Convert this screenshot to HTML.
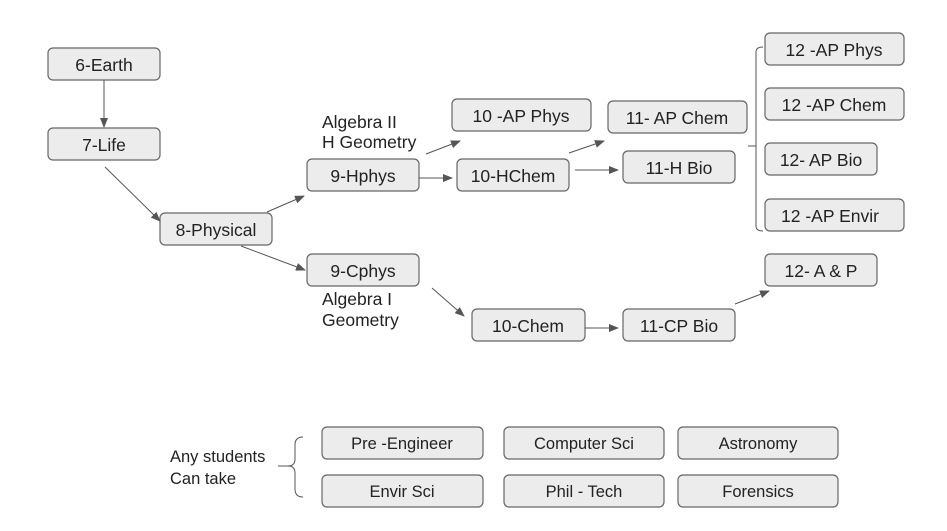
<!DOCTYPE html>
<html><head><style>
body{margin:0;background:#fff;}
svg{display:block;font-family:"Liberation Sans",Arial,sans-serif;}
.b{fill:#ececec;stroke:#666;stroke-width:1.2;}
text{font-size:17.5px;fill:#222;}
text.s{font-size:16.5px;}
.l{stroke:#555;stroke-width:1;fill:none;}
</style></head><body>
<svg width="947" height="531" viewBox="0 0 947 531">
<defs><marker id="a" markerWidth="10" markerHeight="8" refX="9" refY="4" orient="auto" markerUnits="userSpaceOnUse"><path d="M0,0 L10,4 L0,8z" fill="#555"/></marker></defs>
<g text-anchor="middle">
<rect class="b" x="48" y="48" width="112" height="32" rx="5"/><text x="104" y="71">6-Earth</text>
<rect class="b" x="48" y="128" width="112" height="32" rx="5"/><text x="104" y="151">7-Life</text>
<rect class="b" x="160" y="213" width="112" height="32" rx="5"/><text x="216" y="236">8-Physical</text>
<rect class="b" x="307" y="159" width="112" height="32" rx="5"/><text x="363" y="182">9-Hphys</text>
<rect class="b" x="307" y="254" width="112" height="32" rx="5"/><text x="363" y="277">9-Cphys</text>
<rect class="b" x="452" y="99" width="139" height="32" rx="5"/><text x="521" y="122">10 -AP Phys</text>
<rect class="b" x="457" y="159" width="112" height="32" rx="5"/><text x="513" y="182">10-HChem</text>
<rect class="b" x="472" y="309" width="113" height="32" rx="5"/><text x="528" y="332">10-Chem</text>
<rect class="b" x="608" y="101" width="139" height="32" rx="5"/><text x="677" y="124">11- AP Chem</text>
<rect class="b" x="623" y="151" width="112" height="32" rx="5"/><text x="679" y="174">11-H Bio</text>
<rect class="b" x="623" y="309" width="112" height="32" rx="5"/><text x="679" y="332">11-CP Bio</text>
<rect class="b" x="765" y="33" width="139" height="32" rx="5"/><text x="834" y="56">12 -AP Phys</text>
<rect class="b" x="765" y="88" width="139" height="32" rx="5"/><text x="834" y="111">12 -AP Chem</text>
<rect class="b" x="765" y="143" width="112" height="32" rx="5"/><text x="821" y="166">12- AP Bio</text>
<rect class="b" x="765" y="199" width="139" height="32" rx="5"/><text x="830" y="222">12 -AP Envir</text>
<rect class="b" x="765" y="254" width="112" height="32" rx="5"/><text x="821" y="277">12- A &amp; P</text>
<rect class="b" x="322" y="427" width="161" height="32" rx="5"/><text class="s" x="402" y="449">Pre -Engineer</text>
<rect class="b" x="504" y="427" width="160" height="32" rx="5"/><text class="s" x="584" y="449">Computer Sci</text>
<rect class="b" x="678" y="427" width="160" height="32" rx="5"/><text class="s" x="758" y="449">Astronomy</text>
<rect class="b" x="322" y="475" width="161" height="32" rx="5"/><text class="s" x="402" y="497">Envir Sci</text>
<rect class="b" x="504" y="475" width="160" height="32" rx="5"/><text class="s" x="584" y="497">Phil - Tech</text>
<rect class="b" x="678" y="475" width="160" height="32" rx="5"/><text class="s" x="758" y="497">Forensics</text>
</g>
<text x="322" y="128">Algebra II</text>
<text x="322" y="148">H Geometry</text>
<text x="322" y="305">Algebra I</text>
<text x="322" y="326">Geometry</text>
<text class="s" x="170" y="462">Any students</text>
<text class="s" x="170" y="484">Can take</text>
<g class="l" marker-end="url(#a)">
<line x1="104" y1="80" x2="104" y2="127"/>
<line x1="105" y1="167" x2="160" y2="221"/>
<line x1="267" y1="212" x2="304" y2="196"/>
<line x1="241" y1="246" x2="305" y2="270"/>
<line x1="419" y1="178" x2="452" y2="178"/>
<line x1="426" y1="154" x2="460" y2="141"/>
<line x1="432" y1="288" x2="464" y2="316"/>
<line x1="569" y1="153" x2="604" y2="141"/>
<line x1="575" y1="170" x2="618" y2="170"/>
<line x1="585" y1="328" x2="618" y2="328"/>
<line x1="735" y1="304" x2="769" y2="291"/>
</g>
<path class="l" d="M763,47 Q756,47 756,52 L756,226 Q756,231 763,231 M756,146 Q754,146 748,146"/>
<path class="l" d="M303,437 Q295,437 295,445 L295,459 Q295,466 288,466 L278,466 M288,466 Q295,466 295,473 L295,489 Q295,497 303,497"/>
</svg>
</body></html>
